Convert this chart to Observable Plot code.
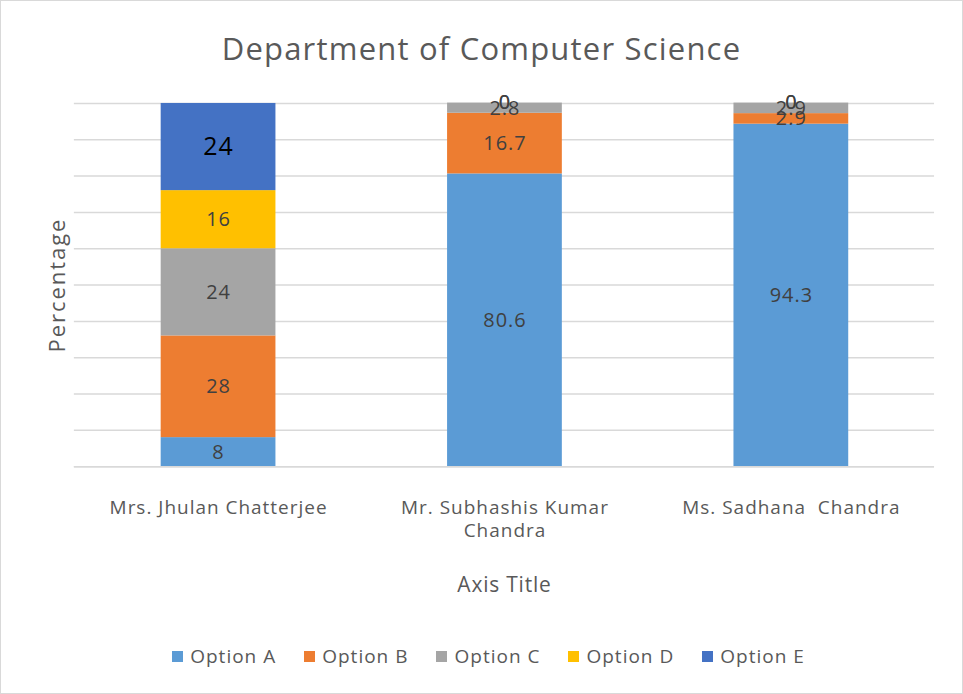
<!DOCTYPE html>
<html>
<head>
<meta charset="utf-8">
<script src="https://cdn.jsdelivr.net/npm/d3@7"></script>
<script src="https://cdn.jsdelivr.net/npm/@observablehq/plot@0.6"></script>
<style>
  html, body { margin: 0; padding: 0; background: #fff; }
  #chart { position: relative; width: 961px; height: 692px; border: 1px solid #d9d9d9; font-family: "Open Sans", sans-serif; color: #595959; overflow: hidden; }
  #title { position: absolute; left: 0; width: 961px; top: 26px; text-align: center; font-size: 31px; letter-spacing: 1.2px; color: #595959; }
  #plot { position: absolute; left: 0; top: 79px; }
  #legend { position: absolute; left: 7px; width: 961px; top: 642px; display: flex; justify-content: center; gap: 28px; font-size: 19px; letter-spacing: 1px; color: #595959; }
  #legend span.item { display: inline-flex; align-items: center; }
  #legend span.sw { display: inline-block; width: 11px; height: 11px; margin-right: 7px; }
  #plot svg g[aria-label="x-axis tick label"] text { letter-spacing: 1px; }
  #plot svg g[aria-label="x-axis label"] text { letter-spacing: 0.8px; }
  #plot svg g[aria-label="y-axis label"] text { letter-spacing: 2px; }
  #plot svg g[aria-label="text"] text { letter-spacing: 1px; }
</style>
</head>
<body>
<div id="chart">
  <div id="title">Department of Computer Science</div>
  <div id="plot"></div>
  <div id="legend"></div>
</div>
<script>
const categories = ["Mrs. Jhulan Chatterjee", "Mr. Subhashis Kumar Chandra", "Ms. Sadhana  Chandra"];
const tickLabels = ["Mrs. Jhulan Chatterjee", "Mr. Subhashis Kumar\nChandra", "Ms. Sadhana  Chandra"];
const options = ["Option A", "Option B", "Option C", "Option D", "Option E"];
const colors = ["#5B9BD5", "#ED7D31", "#A5A5A5", "#FFC000", "#4472C4"];
const optionA = [8, 80.6, 94.3];
const optionB = [28, 16.7, 2.9];
const optionC = [24, 2.8, 2.9];
const optionD = [16, 0, 0];
const optionE = [24, 0, 0];
const gridTicks = [0, 10, 20, 30, 40, 50, 60, 70, 80, 90, 100];

const series = [optionA, optionB, optionC, optionD, optionE];
const data = [];
options.forEach((opt, i) => {
  categories.forEach((cat, j) => {
    data.push({category: cat, option: opt, value: series[i][j]});
  });
});

const plot = Plot.plot({
  width: 963,
  height: 520,
  marginLeft: 73,
  marginRight: 28,
  marginTop: 23,
  marginBottom: 133,
  style: {fontFamily: "Open Sans, sans-serif", fontSize: "19px", color: "#595959", background: "transparent"},
  x: {domain: categories, paddingInner: 0.6, paddingOuter: 0.3, label: null},
  y: {domain: [0, 100], label: null},
  color: {domain: options, range: colors},
  marks: [
    Plot.gridY(gridTicks, {stroke: "#d9d9d9", strokeOpacity: 1, strokeWidth: 1.5}),
    Plot.barY(data, {x: "category", y: "value", fill: "option", order: options}),
    Plot.text(data.filter(d => d.option !== "Option E"), Plot.stackY({x: "category", y: "value", z: "option", order: options, text: d => String(d.value), fill: "#404040", fontSize: 20})),
    Plot.text(data, Plot.stackY({x: "category", y: "value", z: "option", order: options, text: d => d.option === "Option E" ? String(d.value) : "", fill: d => d.option === "Option E" && d.value > 0 ? "black" : "#404040", fontSize: d => d.value > 0 ? 25 : 20})),
    Plot.axisX({tickSize: 0, tickPadding: 31, lineHeight: 1.2, tickFormat: (d) => tickLabels[categories.indexOf(d)], fontSize: 19, fill: "#595959", label: "Axis Title", labelAnchor: "center", labelOffset: 126, labelArrow: "none"}),
    Plot.axisY({ticks: [], label: "Percentage", labelAnchor: "center", labelOffset: 25, labelArrow: "none"}),
    Plot.ruleY([0], {stroke: "#d9d9d9", strokeWidth: 1.5})
  ]
});
document.getElementById("plot").appendChild(plot);

// axis label font sizes
plot.querySelectorAll('g[aria-label="x-axis label"] text').forEach(t => t.setAttribute("font-size", 21));
plot.querySelectorAll('g[aria-label="y-axis label"] text').forEach(t => t.setAttribute("font-size", 22));

const legend = document.getElementById("legend");
options.forEach((opt, i) => {
  const item = document.createElement("span");
  item.className = "item";
  const sw = document.createElement("span");
  sw.className = "sw";
  sw.style.background = colors[i];
  item.appendChild(sw);
  item.appendChild(document.createTextNode(opt));
  legend.appendChild(item);
});
</script>
</body>
</html>
